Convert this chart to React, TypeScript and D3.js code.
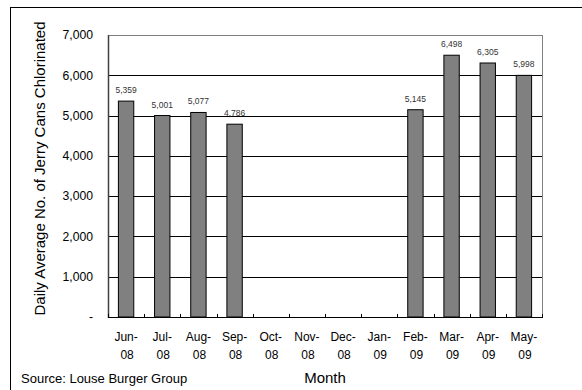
import React from "react";
import * as d3 from "d3";

const categories = ["Jun-08", "Jul-08", "Aug-08", "Sep-08", "Oct-08", "Nov-08", "Dec-08", "Jan-09", "Feb-09", "Mar-09", "Apr-09", "May-09"];
const values: (number | null)[] = [5359, 5001, 5077, 4786, null, null, null, null, 5145, 6498, 6305, 5998];
const yTicks = [0, 1000, 2000, 3000, 4000, 5000, 6000, 7000];
const yTitle = "Daily Average No. of Jerry Cans Chlorinated";
const xTitle = "Month";
const sourceText = "Source: Louse Burger Group";

const W = 582;
const H = 390;
const left = 108;
const right = 542;
const top = 35;
const bottom = 317;
const FONT = "Arial, 'Liberation Sans', sans-serif";

export default function App() {
  const x = d3.scaleBand<string>().domain(categories).range([left, right]).paddingInner(0).paddingOuter(0);
  const y = d3.scaleLinear().domain([0, 7000]).range([bottom, top]);
  const barW = x.bandwidth() * 0.425;
  const fmt = d3.format(",");
  const boundaries = d3.range(categories.length + 1).map((i) => left + i * x.step());

  return (
    <svg width={W} height={H} style={{ position: "absolute", left: 0, top: 0, background: "#fff" }} fontFamily={FONT}>
      <rect x={0} y={0} width={W} height={H} fill="#fff" />
      {/* outer border */}
      <rect x={10.5} y={7.5} width={W + 10} height={H + 10} fill="none" stroke="#000" strokeWidth={1} />
      {/* plot frame top/right */}
      <line x1={left} x2={right + 0.5} y1={top + 0.5} y2={top + 0.5} stroke="#808080" />
      <line x1={right + 0.5} x2={right + 0.5} y1={top} y2={bottom} stroke="#808080" />
      {/* gridlines */}
      {yTicks.filter((t) => t > 0 && t < 7000).map((t) => (
        <line key={t} x1={left} x2={right} y1={Math.round(y(t)) + 0.5} y2={Math.round(y(t)) + 0.5} stroke="#000" />
      ))}
      {/* bars */}
      {categories.map((c, i) => {
        const v = values[i];
        if (v == null) return null;
        const cx = (x(c) as number) + x.bandwidth() / 2;
        const yt = y(v);
        return (
          <g key={c}>
            <rect x={cx - barW / 2} y={yt} width={barW} height={bottom - yt} fill="#808080" stroke="#000" strokeWidth={1} />
            <text x={cx} y={yt - 8} textAnchor="middle" fontSize={8.5} fill="#333">{fmt(v)}</text>
          </g>
        );
      })}
      {/* left axis */}
      <line x1={left + 0.5} x2={left + 0.5} y1={top} y2={bottom + 1} stroke="#404040" strokeWidth={1.5} />
      {/* baseline */}
      <line x1={left} x2={right + 1} y1={bottom + 0.5} y2={bottom + 0.5} stroke="#000" />
      {/* category ticks */}
      {boundaries.map((bx, i) => (
        <line key={i} x1={Math.round(bx) + 0.5} x2={Math.round(bx) + 0.5} y1={bottom - 3} y2={bottom} stroke="#000" />
      ))}
      {/* y tick labels */}
      {yTicks.map((t) => (
        <text key={t} x={93} y={y(t)} dy="0.35em" textAnchor="end" fontSize={12.2} fill="#000">
          {t === 0 ? "-" : fmt(t)}
        </text>
      ))}
      {/* x tick labels */}
      {categories.map((c) => {
        const cx = (x(c) as number) + x.bandwidth() / 2;
        const [m, yr] = c.split("-");
        return (
          <g key={c}>
            <text x={cx} y={341} textAnchor="middle" fontSize={12} fill="#000">{m + "-"}</text>
            <text x={cx + 1} y={359} textAnchor="middle" fontSize={12} fill="#000">{yr}</text>
          </g>
        );
      })}
      {/* titles */}
      <text transform={`translate(44.5,${(20 + 317) / 2}) rotate(-90)`} textAnchor="middle" fontSize={15} fill="#000">{yTitle}</text>
      <text x={325} y={383} textAnchor="middle" fontSize={15} fill="#000">{xTitle}</text>
      <text x={21} y={383} fontSize={13} fill="#000">{sourceText}</text>
    </svg>
  );
}
